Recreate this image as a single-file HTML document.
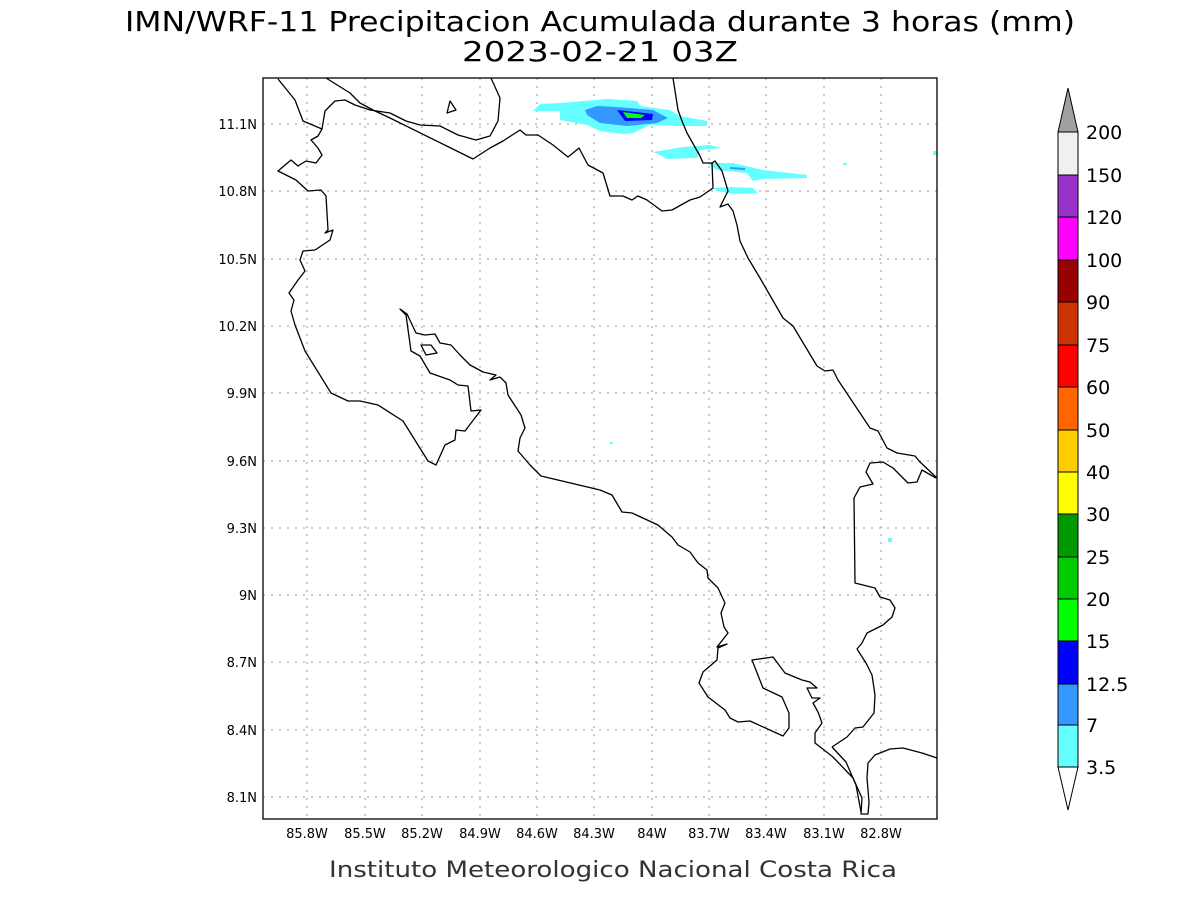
<!DOCTYPE html>
<html><head><meta charset="utf-8"><style>
html,body{margin:0;padding:0;background:#fff;width:1200px;height:900px;overflow:hidden}
svg{display:block}
text{font-family:"DejaVu Sans","Liberation Sans",sans-serif}
</style></head><body>
<svg width="1200" height="900" viewBox="0 0 1200 900" xmlns="http://www.w3.org/2000/svg">
<text x="600" y="31" font-size="28" text-anchor="middle" fill="#000" textLength="950" lengthAdjust="spacingAndGlyphs">IMN/WRF-11 Precipitacion Acumulada durante 3 horas (mm)</text>
<text x="600" y="61" font-size="28" text-anchor="middle" fill="#000" textLength="276" lengthAdjust="spacingAndGlyphs">2023-02-21 03Z</text>
<g stroke="#999" stroke-width="1" stroke-dasharray="2,6">
<line x1="307" y1="78" x2="307" y2="819"/><line x1="365" y1="78" x2="365" y2="819"/><line x1="422" y1="78" x2="422" y2="819"/><line x1="480" y1="78" x2="480" y2="819"/><line x1="537" y1="78" x2="537" y2="819"/><line x1="594" y1="78" x2="594" y2="819"/><line x1="652" y1="78" x2="652" y2="819"/><line x1="709" y1="78" x2="709" y2="819"/><line x1="766" y1="78" x2="766" y2="819"/><line x1="824" y1="78" x2="824" y2="819"/><line x1="881" y1="78" x2="881" y2="819"/>
<line x1="263" y1="124" x2="937" y2="124"/><line x1="263" y1="191" x2="937" y2="191"/><line x1="263" y1="259" x2="937" y2="259"/><line x1="263" y1="326" x2="937" y2="326"/><line x1="263" y1="393" x2="937" y2="393"/><line x1="263" y1="461" x2="937" y2="461"/><line x1="263" y1="528" x2="937" y2="528"/><line x1="263" y1="595" x2="937" y2="595"/><line x1="263" y1="662" x2="937" y2="662"/><line x1="263" y1="730" x2="937" y2="730"/><line x1="263" y1="797" x2="937" y2="797"/>
</g>
<g stroke="none">
<polygon fill="#66ffff" points="533,111 540,104 560,103 607,99 637,101 640,106 670,110 680,116 707,121 707,126 680,126 650,125 633,133 623,134 600,131 587,125 560,120 560,111"/>
<polygon fill="#3399ff" points="585,110 597,106 617,107 653,110 668,118 657,123 627,126 600,123 587,115"/>
<polygon fill="#0000ff" points="617,110 653,114 652,120 625,121"/>
<polygon fill="#00ff00" points="623,112 645,115 641,118 627,118"/>
<polygon fill="#66ffff" points="653,152 683,147 710,145 722,148 700,150 697,158 667,159 660,155"/>
<polygon fill="#66ffff" points="707,163 733,163 763,170 807,175 807,178 763,179 753,181 747,173 717,170"/>
<polygon fill="#3399ff" points="730,167 745,168 745,170 730,169"/>
<polygon fill="#66ffff" points="713,188 730,187 753,188 758,193 733,194 717,191"/>
<rect x="843" y="163" width="4" height="2" fill="#66ffff"/><rect x="933" y="151" width="4" height="4" fill="#66ffff"/>
<rect x="888" y="538" width="4" height="4" fill="#66ffff"/><rect x="610" y="442" width="3" height="2" fill="#66ffff"/>
</g>
<g fill="none" stroke="#000" stroke-width="1.3" stroke-linejoin="round">
<polyline points="278,79 295,100 303,121 322,129 325,111 335,101 345,100 355,105 370,110 390,113 406,121 420,125 440,126 458,135 476,140 490,136 498,121 500,98 491,78"/>
<polyline points="326,78 350,93 360,103 373,110 390,118 473,159 490,148 503,141 520,130 526,135 538,135 553,145 568,157 579,148 588,165 603,173 610,196 623,196 632,200 638,196 647,200 662,211 672,210 690,200 700,197 713,188 712,163 715,161 722,171 728,191 720,207 728,204 733,211 737,225 740,241 748,258 760,278 783,318 793,326 817,366 825,371 833,370 838,380 870,428 878,431 887,448 897,453 915,456 920,462 937,478"/>
<polyline points="673,78 678,110 682,121 687,133 700,156 703,163 713,163"/>
<polyline points="322,129 318,136 311,140 318,148 322,155 316,163 306,161 298,166 291,160 278,171 296,180 308,191 321,190 326,196 328,230 325,233 333,230 330,240 315,250 303,251 300,260 305,271 298,280 289,293 294,300 291,311 295,325 305,351 331,393 348,401 360,401 378,405 403,421 428,461 436,465 445,445 455,440 456,430 465,431 481,410 471,411 468,386 458,385 450,380 430,373 420,356 411,351 406,315 400,309 407,314 416,333 425,335 435,334 440,343 451,345 460,355 470,365 483,372 496,375 490,380 500,377 506,383 508,395 521,415 525,428 520,438 518,451 530,465 541,476 600,490 612,495 622,512 632,513 658,525 672,537 678,545 690,552 698,563 707,570 708,578 718,588 725,603 721,613 724,627 728,633 717,647 727,644 718,648 717,660 703,672 699,683 708,697 725,710 730,718 738,722 750,721 783,736 789,728 789,713 782,697 763,688 752,660 773,657 785,673 802,680 810,682 817,688 807,688 812,698 820,698 813,703 818,712 822,723 815,733 815,743 833,757 853,778 862,798 861,814 868,814 869,802 867,778 868,763 875,755 890,749 903,748 922,753 937,758"/>
<polyline points="832,747 847,737 855,728 863,727 874,713 875,695 872,675 866,663 857,649 862,643 867,633 883,625 892,617 895,608 890,600 880,597 875,588 855,583 854,498 860,487 873,484 866,472 870,463 883,462 893,468 908,483 917,482 922,470 936,478"/>
<polyline points="832,747 846,762 856,785 861,812"/>
<polygon points="450,101 456,110 447,113"/>
<polygon points="421,345 431,345 437,353 426,355"/>
</g>
<rect x="263" y="78" width="674" height="741" fill="none" stroke="#000" stroke-width="1.3"/>
<g font-size="13" fill="#000" text-anchor="end">
<text x="257" y="129">11.1N</text><text x="257" y="196">10.8N</text><text x="257" y="264">10.5N</text><text x="257" y="331">10.2N</text><text x="257" y="398">9.9N</text><text x="257" y="466">9.6N</text><text x="257" y="533">9.3N</text><text x="257" y="600">9N</text><text x="257" y="667">8.7N</text><text x="257" y="735">8.4N</text><text x="257" y="802">8.1N</text>
</g>
<g font-size="13" fill="#000" text-anchor="middle">
<text x="307" y="838">85.8W</text><text x="365" y="838">85.5W</text><text x="422" y="838">85.2W</text><text x="480" y="838">84.9W</text><text x="537" y="838">84.6W</text><text x="594" y="838">84.3W</text><text x="652" y="838">84W</text><text x="709" y="838">83.7W</text><text x="766" y="838">83.4W</text><text x="824" y="838">83.1W</text><text x="881" y="838">82.8W</text>
</g>
<text x="613" y="877" font-size="22" fill="#333" text-anchor="middle" textLength="568" lengthAdjust="spacingAndGlyphs">Instituto Meteorologico Nacional Costa Rica</text>
<g stroke="#000" stroke-width="1">
<polygon points="1068,88 1058,132 1078,132" fill="#a0a0a0"/>
<rect x="1058" y="132" width="20" height="43" fill="#f0f0f0"/>
<rect x="1058" y="175" width="20" height="42" fill="#9933cc"/>
<rect x="1058" y="217" width="20" height="43" fill="#ff00ff"/>
<rect x="1058" y="260" width="20" height="42" fill="#990000"/>
<rect x="1058" y="302" width="20" height="43" fill="#cc3300"/>
<rect x="1058" y="345" width="20" height="42" fill="#ff0000"/>
<rect x="1058" y="387" width="20" height="43" fill="#ff6600"/>
<rect x="1058" y="430" width="20" height="42" fill="#ffcc00"/>
<rect x="1058" y="472" width="20" height="42" fill="#ffff00"/>
<rect x="1058" y="514" width="20" height="43" fill="#009900"/>
<rect x="1058" y="557" width="20" height="42" fill="#00cc00"/>
<rect x="1058" y="599" width="20" height="42" fill="#00ff00"/>
<rect x="1058" y="641" width="20" height="43" fill="#0000ff"/>
<rect x="1058" y="684" width="20" height="41" fill="#3399ff"/>
<rect x="1058" y="725" width="20" height="42" fill="#66ffff"/>
<polygon points="1058,767 1078,767 1068,810" fill="#fff"/>
</g>
<g font-size="19" fill="#000">
<text x="1086" y="139">200</text><text x="1086" y="182">150</text><text x="1086" y="224">120</text><text x="1086" y="267">100</text><text x="1086" y="309">90</text><text x="1086" y="352">75</text><text x="1086" y="394">60</text><text x="1086" y="437">50</text><text x="1086" y="479">40</text><text x="1086" y="521">30</text><text x="1086" y="564">25</text><text x="1086" y="606">20</text><text x="1086" y="648">15</text><text x="1086" y="691">12.5</text><text x="1086" y="732">7</text><text x="1086" y="774">3.5</text>
</g>
</svg>
</body></html>
